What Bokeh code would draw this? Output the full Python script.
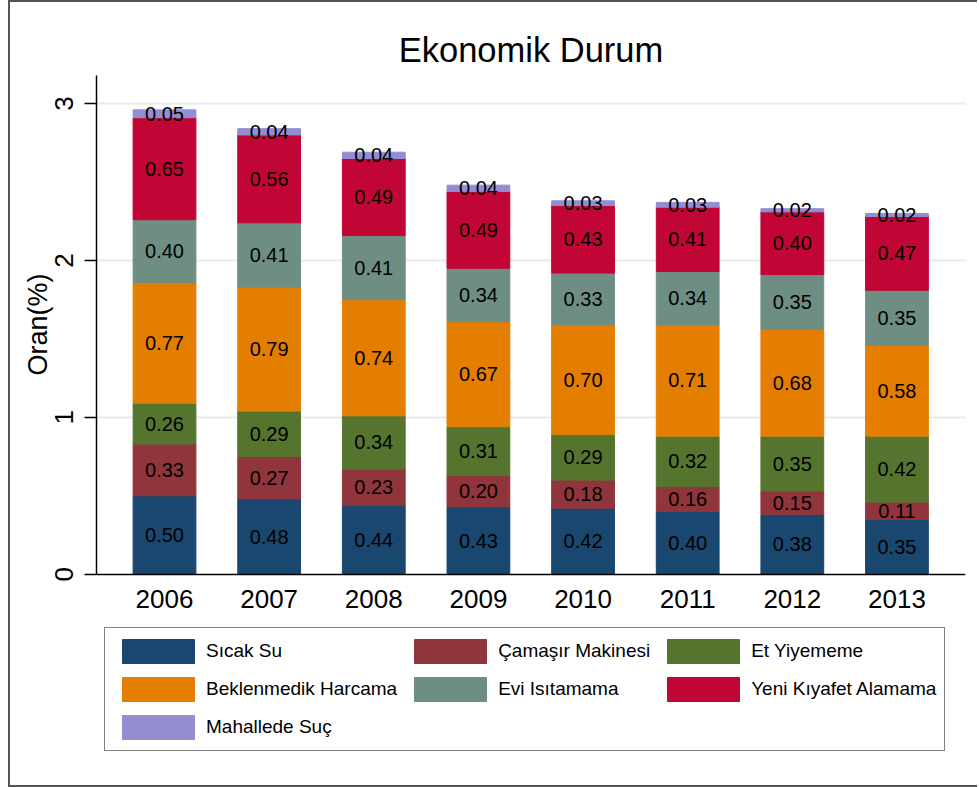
from bokeh.plotting import figure
from bokeh.models import ColumnDataSource, Legend, LegendItem, FixedTicker, Range1d, Title
from bokeh.embed import file_html
from bokeh.resources import INLINE
from bokeh.core.properties import value

years = [2006, 2007, 2008, 2009, 2010, 2011, 2012, 2013]
year_labels = ["2006", "2007", "2008", "2009", "2010", "2011", "2012", "2013"]

series_names = ["Sıcak Su", "Çamaşır Makinesi", "Et Yiyememe",
                "Beklenmedik Harcama", "Evi Isıtamama", "Yeni Kıyafet Alamama",
                "Mahallede Suç"]

sicak_su = [0.50, 0.48, 0.44, 0.43, 0.42, 0.40, 0.38, 0.35]
camasir_makinesi = [0.33, 0.27, 0.23, 0.20, 0.18, 0.16, 0.15, 0.11]
et_yiyememe = [0.26, 0.29, 0.34, 0.31, 0.29, 0.32, 0.35, 0.42]
beklenmedik_harcama = [0.77, 0.79, 0.74, 0.67, 0.70, 0.71, 0.68, 0.58]
evi_isitamama = [0.40, 0.41, 0.41, 0.34, 0.33, 0.34, 0.35, 0.35]
yeni_kiyafet = [0.65, 0.56, 0.49, 0.49, 0.43, 0.41, 0.40, 0.47]
mahallede_suc = [0.05, 0.04, 0.04, 0.04, 0.03, 0.03, 0.02, 0.02]

y_ticks = [0, 1, 2, 3]

series_values = [sicak_su, camasir_makinesi, et_yiyememe, beklenmedik_harcama,
                 evi_isitamama, yeni_kiyafet, mahallede_suc]
colors = ["#1a476f", "#90353b", "#55752f", "#e37e00", "#6e8e84", "#c10534", "#938dd2"]

FONT = "Liberation Sans"
Y_TOP = 3.179
Y_BOTTOM = -1.372  # room under the axis for the legend

keys = [f"s{i}" for i in range(len(series_values))]
data = {"year": years}
for k, v in zip(keys, series_values):
    data[k] = v
source = ColumnDataSource(data)

# label positions (segment centres) derived from the data
lx, ly, lt = [], [], []
for j, yr in enumerate(years):
    base = 0.0
    for vals in series_values:
        v = vals[j]
        lx.append(yr)
        ly.append(base + v / 2)
        lt.append(f"{v:.2f}")
        base += v
label_source = ColumnDataSource(dict(x=lx, y=ly, t=lt))

p = figure(width=969, height=787, output_backend="svg", toolbar_location=None,
           x_range=Range1d(2005.350, 2013.655), y_range=Range1d(Y_BOTTOM, Y_TOP),
           min_border_left=86, min_border_right=14, min_border_top=73,
           min_border_bottom=0, title="Ekonomik Durum")
p.styles = {"border-top": "2px solid #555555", "border-left": "2px solid #555555",
            "border-bottom": "2px solid #555555", "margin-left": "8px"}
p.outline_line_color = None
p.background_fill_color = "white"
p.border_fill_color = "white"

p.title.align = "center"
p.title.text_font = FONT
p.title.text_font_size = "34.5px"
p.title.text_font_style = "normal"
p.title.text_color = "black"
p.title.standoff = 13

renderers = p.vbar_stack(keys, x="year", width=0.60, color=colors, source=source)

p.text(x="x", y="y", text="t", source=label_source, text_align="center",
       text_baseline="middle", text_font=value(FONT), text_font_size="20px",
       text_color="black")

# axes
p.xaxis.fixed_location = 0
p.xaxis.ticker = FixedTicker(ticks=years)
p.xaxis.major_label_overrides = {yr: lab for yr, lab in zip(years, year_labels)}
p.xaxis.major_tick_out = 0
p.xaxis.major_tick_in = 0
p.xaxis.minor_tick_out = 0
p.xaxis.minor_tick_in = 0
p.xaxis.major_label_standoff = 16
p.xaxis.major_label_text_font = FONT
p.xaxis.major_label_text_font_size = "26px"
p.xaxis.major_label_text_color = "black"
p.xaxis.axis_line_color = "black"
p.xaxis.axis_line_width = 1.5

p.yaxis.bounds = (0, Y_TOP)
p.yaxis.ticker = FixedTicker(ticks=y_ticks)
p.yaxis.major_label_orientation = "vertical"
p.yaxis.major_tick_out = 12
p.yaxis.major_tick_in = 0
p.yaxis.minor_tick_out = 0
p.yaxis.minor_tick_in = 0
p.yaxis.major_tick_line_color = "black"
p.yaxis.major_tick_line_width = 1.5
p.yaxis.major_label_standoff = 11
p.yaxis.major_label_text_font = FONT
p.yaxis.major_label_text_font_size = "26px"
p.yaxis.major_label_text_color = "black"
p.yaxis.axis_line_color = "black"
p.yaxis.axis_line_width = 1.5

# y axis title, placed next to the 0-3 part of the axis
ytitle = Title(text="Oran(%)", align="right", offset=198, vertical_align="bottom",
               text_font=FONT, text_font_size="27px", text_font_style="normal",
               text_color="black", standoff=0)
p.add_layout(ytitle, "left")

p.xgrid.visible = False
p.ygrid.ticker = FixedTicker(ticks=[1, 2, 3])
p.ygrid.grid_line_color = "#eaeaea"
p.ygrid.grid_line_width = 2

items = [LegendItem(label=name, renderers=[r]) for name, r in zip(series_names, renderers)]
legend = Legend(items=items, ncols=3, orientation="horizontal", location=(8, 38))
legend.glyph_width = 90
legend.glyph_height = 30
legend.label_standoff = 3
legend.spacing = 8
legend.padding = 8
legend.margin = 0
legend.label_text_font = FONT
legend.label_text_font_size = "19px"
legend.label_text_color = "black"
legend.label_text_baseline = "middle"
legend.border_line_color = "black"
legend.border_line_width = 1.5
legend.background_fill_color = "white"
legend.click_policy = "none"
p.add_layout(legend, "center")

open("out.html", "w").write(file_html(p, INLINE))
